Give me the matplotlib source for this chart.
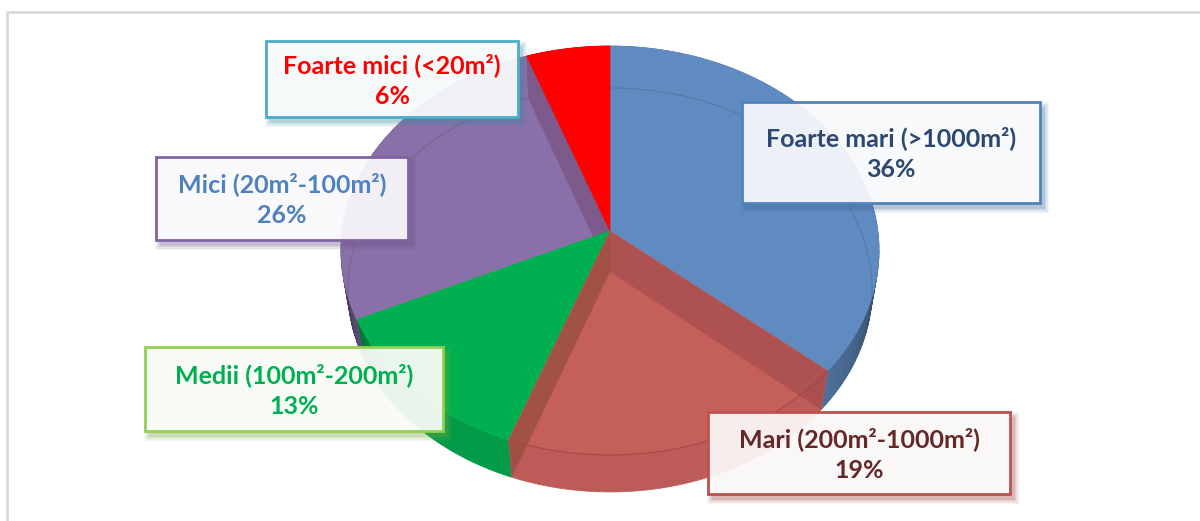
import numpy as np
import matplotlib
matplotlib.use('Agg')
import matplotlib.pyplot as plt
from matplotlib.patches import Polygon, Rectangle
from matplotlib.colors import to_rgb

categories = ['Foarte mari (>1000m²)', 'Mari (200m²-1000m²)', 'Medii (100m²-200m²)',
              'Mici (20m²-100m²)', 'Foarte mici (<20m²)']
# slice sizes, the labels show them rounded
shares = [36.2, 19.4, 12.5, 26.4, 5.5]

face_colors = ['#5f8bc1', '#c45f5a', '#00b050', '#8a70a8', '#ff0000']
text_colors = ['#2c4770', '#652826', '#00b050', '#4f81bd', '#ff0000']
edge_colors = ['#4f81bd', '#c0504d', '#92d050', '#8064a2', '#4bacc6']
# label boxes in pixels: left, top, right, bottom
boxes = [(742, 102, 1040, 203), (708, 412, 1010, 494), (145, 347, 443, 431),
         (156, 157, 408, 240), (266, 41, 518, 117)]

# perspective rims: centre x, apex y, half width, half height, tilt
TOP = (610, 231, 267.8, 202.6, 0.0954)
BOTTOM = (610, 272, 261.0, 200.4, 0.089)

plt.rcParams['font.family'] = ['Lato', 'DejaVu Sans']

fig = plt.figure(figsize=(12, 5.21), dpi=100)
ax = fig.add_axes([0, 0, 1, 1])
ax.set_xlim(0, 1200)
ax.set_ylim(521, 0)
ax.axis('off')


def rim(t, params):
    cx, cy, a, b, p = params
    t = np.asarray(t, dtype=float)
    d = 1 + p * np.cos(t)
    return np.column_stack([cx + a * np.sin(t) / d, cy - b * np.cos(t) / d])


def apex(params):
    return np.array([[params[0], params[1]]])


def shade(color, f):
    return tuple(min(1, c * f) for c in to_rgb(color))


def fill(pts, color, z, alpha=None, lw=0.5):
    patch = Polygon(pts, closed=True, facecolor=color, edgecolor=color if alpha is None else 'none',
                    lw=lw, alpha=alpha, zorder=z)
    ax.add_patch(patch)
    return patch


# border of the chart area
ax.plot([7, 7, 1200], [521, 12, 12], color='#d9d9d9', lw=2, zorder=0)

edges = np.radians(np.concatenate([[0], np.cumsum(shares)]) * 3.6)
arcs = [np.linspace(edges[i], edges[i + 1], 80) for i in range(len(shares))]

# outer walls, split in small pieces so they darken towards the sides
for i, t in enumerate(arcs):
    if i == 1:
        continue
    for t0, t1 in zip(t[:-1], t[1:]):
        seg = [t0, t1]
        f = min(0.42 + 0.6 * abs(np.cos(t0)), 0.88)
        pts = np.vstack([rim(seg, TOP), rim(seg, BOTTOM)[::-1]])
        fill(pts, shade(face_colors[i], f), 1)

# top faces, the Mari slice comes later as it is see-through
for i in [0, 3]:
    top = fill(np.vstack([apex(TOP), rim(arcs[i], TOP)]), face_colors[i], 2)
    xy = rim(arcs[i], BOTTOM)
    line, = ax.plot(xy[:, 0], xy[:, 1], color=shade(face_colors[i], 0.88), lw=0.8, zorder=3)
    line.set_clip_path(top)

# inner wall behind the red slice
t_end = edges[4]
fill(np.vstack([rim([t_end], TOP), apex(TOP), apex(BOTTOM), rim([t_end], BOTTOM)]),
     '#7d5a8c', 4)

fill(np.vstack([apex(TOP), rim(arcs[2], TOP)]), face_colors[2], 5)
fill(np.vstack([apex(TOP), rim(arcs[4], TOP)]), face_colors[4], 5)

# Mari slice: top face, outer wall and the two inner walls
t = arcs[1]
fill(np.vstack([apex(TOP), rim(t, TOP)]), face_colors[1], 6)
fill(np.vstack([rim(t, TOP), rim(t, BOTTOM)[::-1]]), '#bc5b58', 6)
fill(np.vstack([apex(TOP), rim([t[0]], TOP), rim([t[0]], BOTTOM), apex(BOTTOM)]),
     '#8f3c44', 7, alpha=0.4)
fill(np.vstack([apex(TOP), rim([t[-1]], TOP), rim([t[-1]], BOTTOM), apex(BOTTOM)]),
     '#8c4a38', 7, alpha=0.6)
xy = rim(t, TOP)
ax.plot(xy[:, 0], xy[:, 1], color='#a54646', lw=0.7, zorder=8)

# label boxes with a soft shadow
for i, (x0, y0, x1, y1) in enumerate(boxes):
    for grow, a in zip([5, 3.5, 2, 0.5], [0.07, 0.09, 0.12, 0.16]):
        ax.add_patch(Rectangle((x0 + 4 - grow, y0 + 5 - grow), x1 - x0 + 2 * grow, y1 - y0 + 2 * grow,
                               facecolor=shade(edge_colors[i], 0.8), edgecolor='none', alpha=a, zorder=9))
    ax.add_patch(Rectangle((x0, y0), x1 - x0, y1 - y0, facecolor='white', edgecolor='none',
                           alpha=0.9, zorder=10))
    ax.add_patch(Rectangle((x0, y0), x1 - x0, y1 - y0, facecolor='none', edgecolor=edge_colors[i],
                           lw=2, zorder=11))
    xc = (x0 + x1) / 2
    yc = (y0 + y1) / 2
    ax.text(xc, yc - 14, categories[i], color=text_colors[i], fontsize=18, fontweight='bold',
            ha='center', va='center', zorder=12)
    ax.text(xc, yc + 17, '%d%%' % int(shares[i] + 0.5), color=text_colors[i], fontsize=18,
            fontweight='bold', ha='center', va='center', zorder=12)

fig.savefig('out.png', dpi=100, facecolor='white')
